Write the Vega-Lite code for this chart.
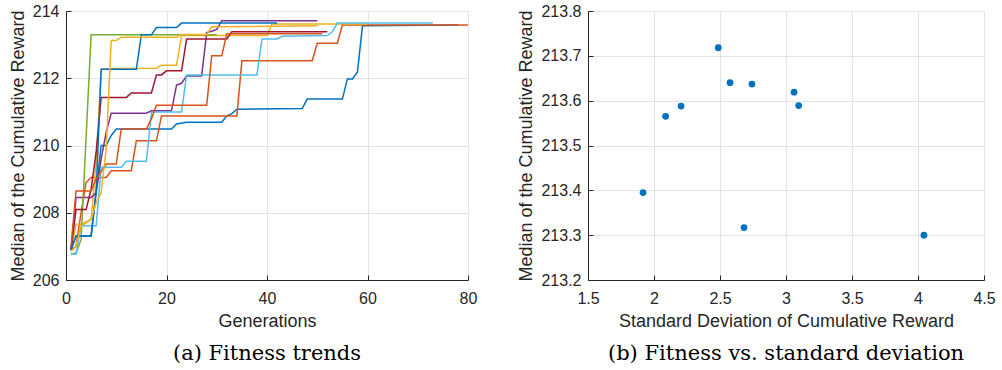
{
  "$schema": "https://vega.github.io/schema/vega-lite/v6.json",
  "background": "white",
  "padding": {"left": 9, "top": 3, "right": 0, "bottom": 0},
  "spacing": 40,
  "config": {
    "view": {"stroke": null},
    "axis": {
      "labelFont": "Liberation Sans", "labelFontSize": 16, "labelColor": "#262626", "labelFlush": false,
      "titleFont": "Liberation Sans", "titleFontSize": 18, "titleFontWeight": "normal", "titleColor": "#262626",
      "domainColor": "#262626", "tickColor": "#262626", "gridColor": "#e3e3e3",
      "tickSize": -5, "labelPadding": 12, "titlePadding": 5
    },
    "axisX": {"labelPadding": 15, "titlePadding": 6},
    "title": {"font": "DejaVu Serif", "fontSize": 21, "fontWeight": "normal", "color": "#000000", "orient": "bottom", "offset": 13}
  },
  "datasets": {
    "lines": [
      {"run": "s01", "gen": 1, "val": 206.9}, {"run": "s01", "gen": 2, "val": 207.31}, {"run": "s01", "gen": 5, "val": 207.31}, {"run": "s01", "gen": 6, "val": 208.65}, {"run": "s01", "gen": 7, "val": 210.0}, {"run": "s01", "gen": 8, "val": 210.0}, {"run": "s01", "gen": 9, "val": 210.3}, {"run": "s01", "gen": 10, "val": 210.49}, {"run": "s01", "gen": 21, "val": 210.49}, {"run": "s01", "gen": 22, "val": 210.64}, {"run": "s01", "gen": 24, "val": 210.69}, {"run": "s01", "gen": 31, "val": 210.69}, {"run": "s01", "gen": 32, "val": 210.88}, {"run": "s01", "gen": 33, "val": 210.95}, {"run": "s01", "gen": 34, "val": 211.08}, {"run": "s01", "gen": 47, "val": 211.1}, {"run": "s01", "gen": 48, "val": 211.38}, {"run": "s01", "gen": 55, "val": 211.38}, {"run": "s01", "gen": 56, "val": 211.98}, {"run": "s01", "gen": 57, "val": 211.98}, {"run": "s01", "gen": 58, "val": 212.19}, {"run": "s01", "gen": 59, "val": 213.56}, {"run": "s01", "gen": 78, "val": 213.58},
      {"run": "s02", "gen": 1, "val": 206.9}, {"run": "s02", "gen": 2, "val": 207.0}, {"run": "s02", "gen": 3, "val": 208.0}, {"run": "s02", "gen": 4, "val": 208.9}, {"run": "s02", "gen": 5, "val": 209.05}, {"run": "s02", "gen": 8, "val": 209.05}, {"run": "s02", "gen": 9, "val": 209.25}, {"run": "s02", "gen": 13, "val": 209.25}, {"run": "s02", "gen": 14, "val": 210.14}, {"run": "s02", "gen": 18, "val": 210.14}, {"run": "s02", "gen": 19, "val": 210.88}, {"run": "s02", "gen": 34, "val": 210.88}, {"run": "s02", "gen": 35, "val": 212.52}, {"run": "s02", "gen": 49, "val": 212.52}, {"run": "s02", "gen": 50, "val": 213.04}, {"run": "s02", "gen": 54, "val": 213.04}, {"run": "s02", "gen": 55, "val": 213.58}, {"run": "s02", "gen": 80, "val": 213.58},
      {"run": "s03", "gen": 1, "val": 206.9}, {"run": "s03", "gen": 2, "val": 207.66}, {"run": "s03", "gen": 3, "val": 207.66}, {"run": "s03", "gen": 5, "val": 207.8}, {"run": "s03", "gen": 6, "val": 209.5}, {"run": "s03", "gen": 7, "val": 212.27}, {"run": "s03", "gen": 10, "val": 212.29}, {"run": "s03", "gen": 18, "val": 212.3}, {"run": "s03", "gen": 19, "val": 212.39}, {"run": "s03", "gen": 22, "val": 212.39}, {"run": "s03", "gen": 23, "val": 213.27}, {"run": "s03", "gen": 40, "val": 213.27}, {"run": "s03", "gen": 41, "val": 213.61}, {"run": "s03", "gen": 60, "val": 213.61},
      {"run": "s04", "gen": 1, "val": 206.9}, {"run": "s04", "gen": 2, "val": 208.45}, {"run": "s04", "gen": 5, "val": 208.45}, {"run": "s04", "gen": 6, "val": 208.6}, {"run": "s04", "gen": 7, "val": 209.6}, {"run": "s04", "gen": 8, "val": 210.4}, {"run": "s04", "gen": 9, "val": 210.96}, {"run": "s04", "gen": 16, "val": 210.96}, {"run": "s04", "gen": 17, "val": 211.03}, {"run": "s04", "gen": 21, "val": 211.03}, {"run": "s04", "gen": 22, "val": 211.8}, {"run": "s04", "gen": 23, "val": 211.85}, {"run": "s04", "gen": 24, "val": 212.07}, {"run": "s04", "gen": 27, "val": 212.07}, {"run": "s04", "gen": 28, "val": 213.36}, {"run": "s04", "gen": 29, "val": 213.4}, {"run": "s04", "gen": 30, "val": 213.45}, {"run": "s04", "gen": 31, "val": 213.71}, {"run": "s04", "gen": 50, "val": 213.71},
      {"run": "s05", "gen": 1, "val": 206.77}, {"run": "s05", "gen": 2, "val": 206.8}, {"run": "s05", "gen": 3, "val": 207.2}, {"run": "s05", "gen": 5, "val": 213.29}, {"run": "s05", "gen": 30, "val": 213.29},
      {"run": "s06", "gen": 1, "val": 206.77}, {"run": "s06", "gen": 2, "val": 206.77}, {"run": "s06", "gen": 3, "val": 207.61}, {"run": "s06", "gen": 6, "val": 207.61}, {"run": "s06", "gen": 7, "val": 209.35}, {"run": "s06", "gen": 11, "val": 209.35}, {"run": "s06", "gen": 12, "val": 209.53}, {"run": "s06", "gen": 16, "val": 209.53}, {"run": "s06", "gen": 17, "val": 211.0}, {"run": "s06", "gen": 23, "val": 211.0}, {"run": "s06", "gen": 24, "val": 212.1}, {"run": "s06", "gen": 38, "val": 212.1}, {"run": "s06", "gen": 39, "val": 213.17}, {"run": "s06", "gen": 42, "val": 213.17}, {"run": "s06", "gen": 43, "val": 213.25}, {"run": "s06", "gen": 52, "val": 213.27}, {"run": "s06", "gen": 53, "val": 213.38}, {"run": "s06", "gen": 54, "val": 213.64}, {"run": "s06", "gen": 73, "val": 213.64},
      {"run": "s07", "gen": 1, "val": 206.9}, {"run": "s07", "gen": 2, "val": 208.1}, {"run": "s07", "gen": 4, "val": 208.1}, {"run": "s07", "gen": 5, "val": 208.7}, {"run": "s07", "gen": 6, "val": 209.8}, {"run": "s07", "gen": 7, "val": 211.43}, {"run": "s07", "gen": 12, "val": 211.43}, {"run": "s07", "gen": 13, "val": 211.56}, {"run": "s07", "gen": 17, "val": 211.56}, {"run": "s07", "gen": 18, "val": 212.1}, {"run": "s07", "gen": 19, "val": 212.1}, {"run": "s07", "gen": 20, "val": 212.22}, {"run": "s07", "gen": 23, "val": 212.22}, {"run": "s07", "gen": 24, "val": 213.17}, {"run": "s07", "gen": 32, "val": 213.17}, {"run": "s07", "gen": 33, "val": 213.38}, {"run": "s07", "gen": 52, "val": 213.38},
      {"run": "s08", "gen": 1, "val": 206.9}, {"run": "s08", "gen": 2, "val": 207.31}, {"run": "s08", "gen": 5, "val": 207.31}, {"run": "s08", "gen": 6, "val": 208.6}, {"run": "s08", "gen": 7, "val": 212.27}, {"run": "s08", "gen": 14, "val": 212.27}, {"run": "s08", "gen": 15, "val": 213.29}, {"run": "s08", "gen": 17, "val": 213.29}, {"run": "s08", "gen": 18, "val": 213.51}, {"run": "s08", "gen": 22, "val": 213.51}, {"run": "s08", "gen": 23, "val": 213.64}, {"run": "s08", "gen": 42, "val": 213.64},
      {"run": "s09", "gen": 1, "val": 207.0}, {"run": "s09", "gen": 2, "val": 208.65}, {"run": "s09", "gen": 5, "val": 208.65}, {"run": "s09", "gen": 6, "val": 209.0}, {"run": "s09", "gen": 8, "val": 209.45}, {"run": "s09", "gen": 10, "val": 209.45}, {"run": "s09", "gen": 11, "val": 210.49}, {"run": "s09", "gen": 16, "val": 210.49}, {"run": "s09", "gen": 17, "val": 210.8}, {"run": "s09", "gen": 18, "val": 211.2}, {"run": "s09", "gen": 28, "val": 211.2}, {"run": "s09", "gen": 29, "val": 212.67}, {"run": "s09", "gen": 31, "val": 212.67}, {"run": "s09", "gen": 32, "val": 213.32}, {"run": "s09", "gen": 51, "val": 213.32},
      {"run": "s10", "gen": 1, "val": 206.85}, {"run": "s10", "gen": 2, "val": 207.0}, {"run": "s10", "gen": 3, "val": 207.6}, {"run": "s10", "gen": 5, "val": 207.8}, {"run": "s10", "gen": 6, "val": 208.3}, {"run": "s10", "gen": 7, "val": 208.6}, {"run": "s10", "gen": 8, "val": 209.9}, {"run": "s10", "gen": 9, "val": 213.12}, {"run": "s10", "gen": 10, "val": 213.12}, {"run": "s10", "gen": 11, "val": 213.22}, {"run": "s10", "gen": 22, "val": 213.22}, {"run": "s10", "gen": 23, "val": 213.3}, {"run": "s10", "gen": 28, "val": 213.3}, {"run": "s10", "gen": 29, "val": 213.53}, {"run": "s10", "gen": 50, "val": 213.56}
    ],
    "pts": [
      {"sd": 1.917, "med": 213.395}, {"sd": 2.088, "med": 213.565}, {"sd": 2.205, "med": 213.588},
      {"sd": 2.487, "med": 213.718}, {"sd": 2.576, "med": 213.64}, {"sd": 2.742, "med": 213.637},
      {"sd": 2.682, "med": 213.317}, {"sd": 3.061, "med": 213.619}, {"sd": 3.096, "med": 213.589},
      {"sd": 4.045, "med": 213.3}
    ]
  },
  "hconcat": [
    {
      "width": 402, "height": 269,
      "title": {"text": "(a) Fitness trends"},
      "data": {"name": "lines"},
      "mark": {"type": "line", "strokeWidth": 1.5, "clip": true},
      "encoding": {
        "x": {"field": "gen", "type": "quantitative", "title": "Generations",
              "scale": {"domain": [0, 80], "nice": false},
              "axis": {"values": [0, 20, 40, 60, 80], "grid": true}},
        "y": {"field": "val", "type": "quantitative", "title": "Median of the Cumulative Reward",
              "scale": {"domain": [206, 214], "nice": false, "zero": false},
              "axis": {"values": [206, 208, 210, 212, 214], "grid": true}},
        "color": {"field": "run", "type": "nominal", "legend": null,
                  "scale": {"domain": ["s01","s02","s03","s04","s05","s06","s07","s08","s09","s10"],
                            "range": ["#0072BD","#D95319","#EDB120","#7E2F8E","#77AC30","#4DBEEE","#A2142F","#0072BD","#D95319","#EDB120"]}}
      }
    },
    {
      "width": 396, "height": 269,
      "title": {"text": "(b) Fitness vs. standard deviation"},
      "data": {"name": "pts"},
      "mark": {"type": "point", "filled": true, "size": 46, "opacity": 1, "color": "#0072BD"},
      "encoding": {
        "x": {"field": "sd", "type": "quantitative", "title": "Standard Deviation of Cumulative Reward",
              "scale": {"domain": [1.5, 4.5], "nice": false, "zero": false},
              "axis": {"values": [1.5, 2, 2.5, 3, 3.5, 4, 4.5], "format": "~g", "grid": true}},
        "y": {"field": "med", "type": "quantitative", "title": "Median of the Cumulative Reward",
              "scale": {"domain": [213.2, 213.8], "nice": false, "zero": false},
              "axis": {"values": [213.2, 213.3, 213.4, 213.5, 213.6, 213.7, 213.8], "format": ".1f", "grid": true}}
      }
    }
  ]
}
